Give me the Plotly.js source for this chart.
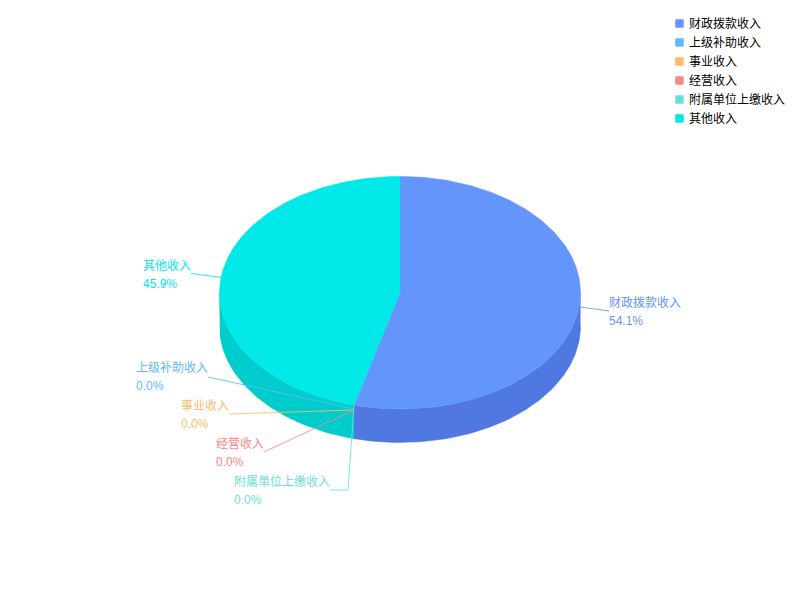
<!DOCTYPE html>
<html><head><meta charset="utf-8">
<script src="https://cdn.plot.ly/plotly-3.0.1.min.js"></script>
<style>html,body{margin:0;padding:0;background:#fff}#c{width:800px;height:600px}</style>
</head><body><div id="c"></div>
<script>
const categories = ['财政拨款收入','上级补助收入','事业收入','经营收入','附属单位上缴收入','其他收入'];
const values = [54.1, 0, 0, 0, 0, 45.9];
const percentLabels = ['54.1%','0.0%','0.0%','0.0%','0.0%','45.9%'];
const topColors = ['#6495FA','#62B8FF','#FFBC66','#FF8585','#6ADFDC','#00E8E8'];
const sideColors = ['#4F78E0','#4F9CDF','#DFA050','#DF7070','#55C0BD','#00CCCC'];

// view geometry of the tilted disc
const cx = 400, cy = 292.7, rx = 180.5, ry = 116.3, depth = 33.5;
// label anchors and leader-line paths (layout, not data)
const labelLeft = [609, 136, 181, 216, 234, 143];
const nameY = [303, 368, 406, 444, 481, 266];
const percentY = [321, 386, 424, 462, 500, 284];
const leaderIn  = [[580,307],[354,409],[354,410],[354,410],[354,405],[222,277.5]];
const leaderOut = [[[609,311]],[[208,377]],[[229,414]],[[264,452]],[[348,490],[330,490]],[[191,273.5]]];
const font = '"Liberation Sans","Noto Sans CJK SC",sans-serif';

const pt = (deg, dy) => {
  const a = deg * Math.PI / 180;
  return [cx + rx * Math.sin(a), cy - ry * Math.cos(a) + (dy || 0)];
};
const arc = (a0, a1, dy) => {
  const out = [], n = Math.max(1, Math.ceil((a1 - a0) / 1));
  for (let i = 0; i <= n; i++) out.push(pt(a0 + (a1 - a0) * i / n, dy));
  return out;
};
const poly = (pts, color) => ({
  type:'scatter', mode:'lines', fill:'toself', fillcolor:color,
  x:pts.map(p=>p[0]), y:pts.map(p=>p[1]),
  line:{width:0.5,color:color}, hoverinfo:'skip', showlegend:false
});

const total = values.reduce((a,b)=>a+b,0);
const traces = [], tops = [];
let start = 0;
values.forEach((v,i)=>{
  const end = start + v / total * 360;
  // front wall: only the part of the rim between 90 and 270 degrees is visible
  const w0 = Math.max(start, 90), w1 = Math.min(end, 270);
  if (w1 > w0) traces.push(poly(arc(w0,w1,0).concat(arc(w0,w1,depth).reverse()), sideColors[i]));
  if (v > 0) tops.push(poly([[cx,cy]].concat(arc(start,end,0)).concat([[cx,cy]]), topColors[i]));
  start = end;
});
traces.push(...tops);

// leader lines
categories.forEach((c,i)=>{
  const pts = [leaderIn[i]].concat(leaderOut[i]);
  traces.push({type:'scatter',mode:'lines',x:pts.map(p=>p[0]),y:pts.map(p=>p[1]),
    line:{width:1,color:topColors[i]},opacity:0.85,hoverinfo:'skip',showlegend:false});
});
// legend entries
categories.forEach((c,i)=>{
  traces.push({type:'scatter',mode:'markers',x:[null],y:[null],name:c,
    marker:{symbol:'square',size:6.5,color:topColors[i],line:{width:2,color:topColors[i]}},hoverinfo:'skip'});
});

const annotations = [];
categories.forEach((c,i)=>{
  annotations.push({x:labelLeft[i],y:nameY[i],xref:'x',yref:'y',xanchor:'left',yanchor:'middle',
    text:c,showarrow:false,font:{family:font,size:12,color:topColors[i]},borderpad:0,borderwidth:0});
  annotations.push({x:labelLeft[i],y:percentY[i],xref:'x',yref:'y',xanchor:'left',yanchor:'middle',
    text:percentLabels[i],showarrow:false,font:{family:font,size:12,color:topColors[i]},borderpad:0,borderwidth:0});
});

Plotly.newPlot('c',traces,{
  width:800,height:600,margin:{l:0,r:0,t:0,b:0},
  paper_bgcolor:'#fff',plot_bgcolor:'#fff',
  xaxis:{range:[0,800],visible:false,fixedrange:true},
  yaxis:{range:[600,0],visible:false,fixedrange:true},
  legend:{x:0.8112,y:0.985,xanchor:'left',yanchor:'top',font:{family:font,size:12,color:'#000'},
    bgcolor:'rgba(0,0,0,0)',itemwidth:30,traceorder:'normal'},
  annotations
},{displayModeBar:false,staticPlot:true}).then(gd=>{
  // swatches sit closer to their text than the default legend spacing
  gd.querySelectorAll('.legend .legendpoints').forEach(g=>{
    g.setAttribute('transform','translate(10.5,0)');
    g.querySelectorAll('path').forEach(p=>p.style.strokeLinejoin='round');
  });
});
</script></body></html>
